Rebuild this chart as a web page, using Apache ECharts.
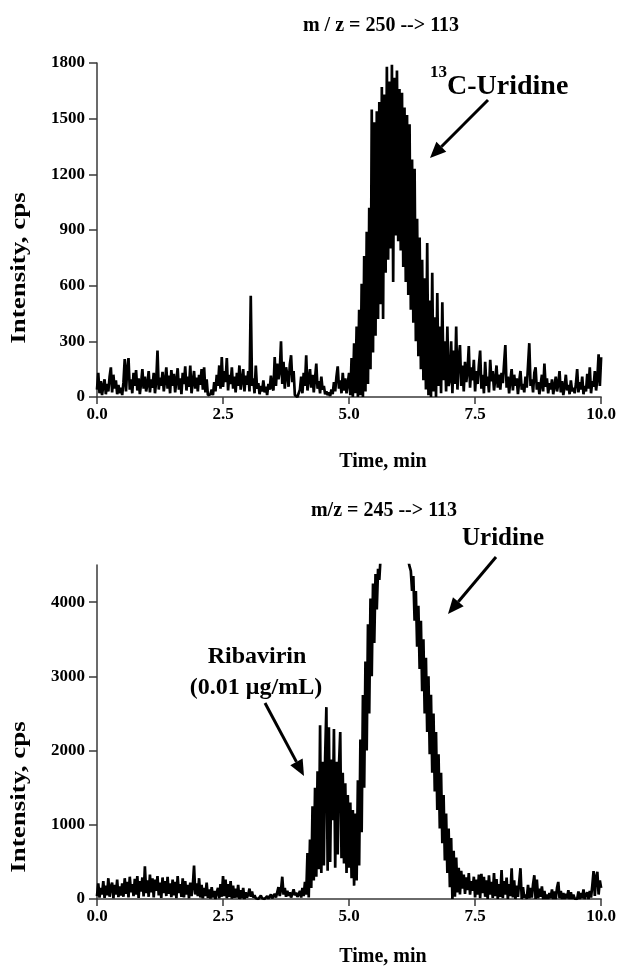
<!DOCTYPE html>
<html>
<head>
<meta charset="utf-8">
<script src="https://cdn.jsdelivr.net/npm/echarts@6/dist/echarts.min.js"></script>
<style>
html,body{margin:0;padding:0;background:#fff;}
#chart{width:619px;height:968px;}
</style>
</head>
<body>
<div id="chart"></div>
<script>
// sampling interval of the chromatograms (min)
const timeStep = 0.025;

// top trace: m/z 250 --> 113 (13C-Uridine), intensity in cps, one value per 0.025 min from 0 to 10
const topIntensity = [
  40,130,20,85,10,60,95,15,70,30,110,160,25,120,45,90,15,65,20,50,
  10,80,205,30,150,210,40,95,20,130,60,145,35,100,15,75,150,45,110,30,
  70,140,25,95,50,130,20,85,250,40,105,60,135,30,90,160,45,115,20,145,
  60,125,25,90,155,40,100,15,130,70,165,35,110,55,170,20,80,140,45,105,
  30,120,65,150,40,160,25,95,10,5,15,40,10,80,30,120,60,170,45,215,
  55,140,80,210,35,120,70,160,45,110,25,130,60,170,40,95,150,30,115,65,
  140,30,545,60,100,20,170,45,75,15,60,30,90,25,55,10,70,40,115,50,
  35,215,60,180,95,140,300,70,190,45,160,120,55,175,225,80,140,10,5,0,
  5,40,110,20,130,60,225,35,95,150,50,120,25,100,180,45,85,20,110,40,
  60,15,30,10,25,5,40,15,80,30,110,165,45,90,20,130,35,100,20,75,
  130,10,210,0,290,20,380,0,470,10,610,0,760,30,890,70,1020,150,1550,240,
  1480,330,1540,420,1590,500,1670,420,1630,670,1780,740,1700,800,1790,620,1720,870,1760,840,
  1660,790,1640,700,1560,620,1520,550,1470,470,1280,400,1230,300,960,220,860,150,740,90,
  640,40,830,10,520,0,670,30,430,0,560,60,380,20,510,90,300,30,380,60,
  90,300,20,250,70,380,40,210,280,60,170,30,190,80,140,275,50,160,90,200,
  30,140,70,170,250,45,120,20,190,60,110,25,200,85,140,35,95,170,50,120,
  40,130,75,180,280,50,110,20,90,150,35,120,60,100,15,85,140,40,70,25,
  110,50,170,290,60,95,25,130,160,40,80,15,65,120,30,180,55,100,20,75,
  40,95,15,60,110,30,70,140,25,85,10,55,120,35,65,15,90,30,50,20,
  70,150,25,80,40,110,15,60,30,125,45,160,20,85,55,140,35,100,230,60,
  215
];

// bottom trace: m/z 245 --> 113 (Ribavirin and Uridine); values above 4500 run off the scale
const bottomIntensity = [
  40,210,20,150,60,240,15,180,50,280,30,160,220,10,190,60,260,25,170,45,
  210,30,280,70,230,20,300,90,200,40,270,60,310,15,240,100,290,35,440,80,
  250,30,330,90,280,20,260,110,310,50,220,15,290,80,240,40,300,70,210,25,
  260,50,230,10,310,80,200,30,280,20,240,60,190,10,220,40,170,450,60,210,
  40,280,20,190,10,150,40,220,15,130,5,160,20,110,0,90,150,10,200,30,
  310,40,260,10,200,30,240,5,180,15,140,20,190,0,120,10,150,0,90,20,
  60,140,30,100,20,50,10,35,0,20,45,10,30,0,15,40,5,25,60,10,
  30,70,20,90,160,40,120,300,60,150,30,110,45,90,20,70,130,50,85,30,
  60,110,20,150,40,230,60,620,20,800,150,1250,250,1500,300,1720,400,2340,350,1850,
  450,1900,2585,380,2315,500,1880,1060,2290,420,1850,600,1800,2250,550,1700,480,1560,350,1400,
  420,1300,280,1200,180,1150,250,1600,450,2150,900,2750,1500,3200,2000,3700,2500,4050,3000,4250,
  3450,4380,3900,4450,4300,4600,4650,4700,4680,4720,4760,4740,4780,4770,4790,4800,4780,4790,4770,4780,
  4760,4750,4720,4700,4680,4650,4600,4560,4480,4420,4150,4350,3750,4150,3400,3950,3100,3750,2800,3500,
  2500,3250,2250,3000,1950,2750,1700,2500,1450,2250,1200,1950,950,1700,750,1400,520,1150,350,950,
  160,820,0,650,30,560,90,420,60,380,140,330,70,290,120,350,60,240,110,300,
  20,260,60,330,10,340,80,300,30,250,0,320,60,230,15,350,40,270,0,200,
  30,390,10,240,60,290,0,200,40,415,20,250,0,180,30,230,415,0,160,20,
  60,0,190,10,150,20,200,320,0,260,10,140,30,170,0,110,0,60,0,80,
  10,130,0,100,0,150,230,10,110,0,80,0,70,10,120,0,90,0,60,5,
  30,0,100,0,80,10,130,0,60,90,0,110,20,180,375,40,300,365,60,250,
  150
];

const xTicks = [0, 2.5, 5, 7.5, 10];
const topYTicks = [0, 300, 600, 900, 1200, 1500, 1800];
const bottomYTicks = [0, 1000, 2000, 3000, 4000];
const xRange = [0, 10];
const topYRange = [0, 1800];
const bottomYRange = [0, 4500];

const topTitle = 'm / z = 250 --> 113';
const bottomTitle = 'm/z = 245 --> 113';
const xName = 'Time, min';
const yName = 'Intensity, cps';

const FONT = '"Liberation Serif", "Times New Roman", serif';

function toPairs(vals) {
  return vals.map((v, i) => [+(i * timeStep).toFixed(3), v]);
}

const axisColor = '#3a3a3a';
function xAxisOpt(gi) {
  return {
    type: 'value', gridIndex: gi, min: xRange[0], max: xRange[1], interval: 2.5,
    axisLine: { onZero: false, lineStyle: { color: axisColor, width: 1.5 } },
    axisTick: { show: true, inside: false, length: 7, customValues: xTicks, lineStyle: { color: axisColor, width: 1.5 } },
    axisLabel: { customValues: xTicks, formatter: v => Number(v).toFixed(1), fontFamily: FONT, fontWeight: 'bold', fontSize: 17, color: '#000', margin: 9 },
    splitLine: { show: false }
  };
}
function yAxisOpt(gi, range, ticks, interval) {
  return {
    type: 'value', gridIndex: gi, min: range[0], max: range[1], interval: interval,
    axisLine: { show: true, lineStyle: { color: axisColor, width: 1.5 } },
    axisTick: { show: true, inside: false, length: 8, customValues: ticks, lineStyle: { color: axisColor, width: 1.5 } },
    axisLabel: { customValues: ticks, formatter: v => String(Math.round(v)), fontFamily: FONT, fontWeight: 'bold', fontSize: 17, color: '#000', margin: 12 },
    splitLine: { show: false }
  };
}

function arrow(x1, y1, x2, y2) {
  const dx = x2 - x1, dy = y2 - y1;
  const len = Math.sqrt(dx * dx + dy * dy);
  const ux = dx / len, uy = dy / len;
  const headLen = 16, headW = 7;
  const bx = x2 - ux * headLen, by = y2 - uy * headLen;
  return [
    { type: 'line', shape: { x1: x1, y1: y1, x2: bx, y2: by }, style: { stroke: '#000', lineWidth: 3 }, z: 100 },
    { type: 'polygon', shape: { points: [[x2, y2], [bx - uy * headW, by + ux * headW], [bx + uy * headW, by - ux * headW]] }, style: { fill: '#000' }, z: 100 }
  ];
}

function txt(text, x, y, size, extra, align) {
  return Object.assign({
    type: 'text', x: x, y: y, z: 100,
    style: { text: text, fontFamily: FONT, fontWeight: 'bold', fontSize: size, fill: '#000', align: align || 'center', verticalAlign: 'middle' }
  }, extra || {});
}

const chart = echarts.init(document.getElementById('chart'), null, { renderer: 'canvas' });
chart.setOption({
  animation: false,
  backgroundColor: '#fff',
  grid: [
    { left: 97, top: 63, width: 506, height: 334 },
    { left: 97, top: 565, width: 506, height: 334 }
  ],
  xAxis: [xAxisOpt(0), xAxisOpt(1)],
  yAxis: [
    yAxisOpt(0, topYRange, topYTicks, 300),
    yAxisOpt(1, bottomYRange, bottomYTicks, 1000)
  ],
  series: [
    { type: 'line', xAxisIndex: 0, yAxisIndex: 0, data: toPairs(topIntensity), symbol: 'none', showSymbol: false,
      lineStyle: { color: '#000', width: 2.7, join: 'bevel' }, clip: true },
    { type: 'line', xAxisIndex: 1, yAxisIndex: 1, data: toPairs(bottomIntensity), symbol: 'none', showSymbol: false,
      lineStyle: { color: '#000', width: 2.7, join: 'bevel' }, clip: true }
  ],
  graphic: [
    txt(topTitle, 381, 26, 20),
    txt(bottomTitle, 384, 511, 20),
    txt(xName, 383, 462, 20),
    txt(xName, 383, 957, 20),
    txt(yName, 20, 268, 20, { rotation: Math.PI / 2, scaleX: 1.35 }),
    txt(yName, 20, 797, 20, { rotation: Math.PI / 2, scaleX: 1.35 }),
    txt('13', 430, 73, 17, null, 'left'),
    txt('C-Uridine', 447, 87, 28, null, 'left'),
    txt('Uridine', 503, 539, 25),
    txt('Ribavirin', 257, 657, 24),
    txt('(0.01 \u03bcg/mL)', 256, 688, 24),
    ...arrow(488, 100, 430, 158),
    ...arrow(496, 557, 448, 614),
    ...arrow(265, 703, 304, 776)
  ]
});
</script>
</body>
</html>
